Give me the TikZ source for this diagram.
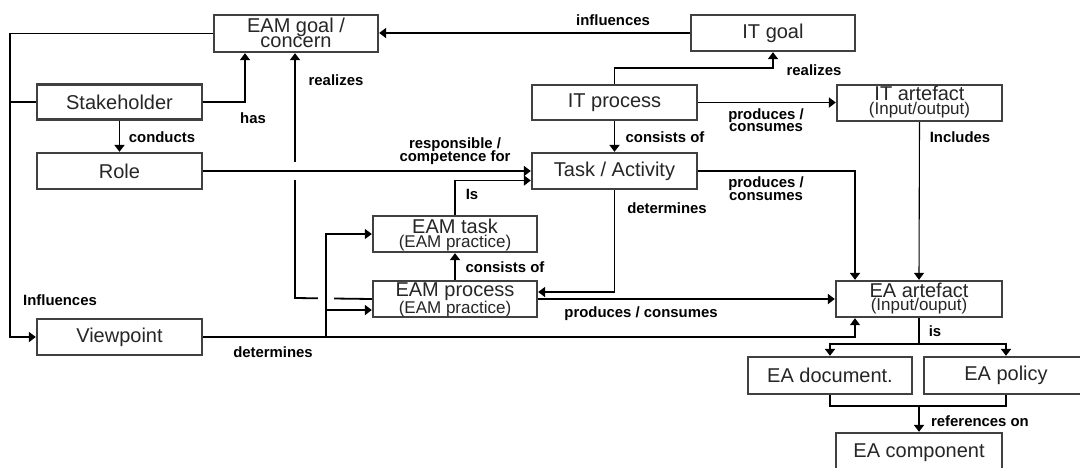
\documentclass[tikz,border=0pt]{standalone}
\usepackage{fontspec}
\setmainfont{Liberation Sans}
\usetikzlibrary{arrows.meta,calc}
\definecolor{boxgray}{HTML}{404040}
% two centred lines: #1 first, #2 second, #3 height of first, #4 baseline distance, #5 depth of second
\newcommand\twol[5]{\vbox{\offinterlineskip\halign{\hfil##\hfil\cr
  \raisebox{0pt}[#3][0pt]{#1}\cr
  \raisebox{0pt}[#4][#5]{#2}\cr}}}
\newcommand\subf{\fontsize{17}{17}\selectfont}
\begin{document}
\begin{tikzpicture}[x=1pt,y=-1pt,
  box/.style={draw=boxgray, line width=2.3pt, fill=white, inner sep=0pt,
              font=\fontsize{20}{24}\selectfont, text=black!85},
  lbl/.style={inner sep=0pt, font=\fontsize{14.9}{18}\selectfont\bfseries},
  conn/.style={line width=1.8pt, -{Triangle[length=7pt,width=10pt]}},
  ln/.style={line width=1.8pt},
  thinconn/.style={line width=1.1pt, -{Triangle[length=7pt,width=10pt]}},
  thinln/.style={line width=1.1pt}]
\useasboundingbox (0,0) rectangle (1080,467);
\fill[white] (0,0) rectangle (1080,467);
\clip (0,0) rectangle (1080,467);

% boxes
\node[box, minimum width=164, minimum height=37] (goal) at (296,33.5) {\twol{EAM goal /}{concern}{14.5pt}{15pt}{2.5pt}};
\node[box, minimum width=164, minimum height=36] (itgoal) at (773,33) {IT goal};
\node[box, minimum width=165, minimum height=35] (sh) at (119.5,102) {Stakeholder};
\node[box, minimum width=165, minimum height=36] (role) at (119.5,171) {Role};
\node[box, minimum width=165, minimum height=35] (itp) at (614.5,102.5) {IT process};
\node[box, minimum width=165, minimum height=36] (ita) at (919.5,103) {\twol{IT artefact}{\subf(Input/output)}{14.5pt}{13.5pt}{6pt}};
\node[box, minimum width=165, minimum height=36] (task) at (614.5,171) {Task / Activity};
\node[box, minimum width=164, minimum height=36] (eamt) at (455,234) {\twol{EAM task}{\subf(EAM practice)}{14.5pt}{14pt}{2.5pt}};
\node[box, minimum width=164, minimum height=36] (eamp) at (455,299) {\twol{EAM process}{\subf(EAM practice)}{14.5pt}{17pt}{3.5pt}};
\node[box, minimum width=166, minimum height=36] (eaa) at (919,299) {\twol{EA artefact}{\subf(Input/ouput)}{14.5pt}{13.5pt}{5pt}};
\node[box, minimum width=165, minimum height=36] (vp) at (119.5,337) {Viewpoint};
\node[box, minimum width=164, minimum height=37] (doc) at (830,375.5) {EA document.};
\node[box, minimum width=164, minimum height=37] (pol) at (1006,375.5) {EA policy};
\node[box, minimum width=166, minimum height=40] (comp) at (919,453) {EA component};

% helper coordinates
\coordinate (L) at (10,33);
\coordinate (R) at (295,298);
\coordinate (D) at (326,336);
\coordinate (D2) at ([yshift=-11pt]eamp.west);
\coordinate (S) at (919,344);
\coordinate (J) at (919,406);

% realizes (EAM process -> EAM goal)
\draw[conn] (eamp.west) -- (R) -- (R |- goal.south);
% crossing gaps
\fill[white] (288,162) rectangle (303,180);
\fill[white] (318,294) rectangle (334,302);

% connectors
\draw[conn] (itgoal.west) -- (itgoal.west -| goal.east);
\draw[conn] (goal.west) -- (goal.west -| L) |- (vp.west);
\draw[ln] (sh.west) -- (sh.west -| L);
\draw[conn] (sh.east) -| ([xshift=-51pt]goal.south);
\draw[conn] (sh.south) -- (role.north);
\draw[conn] (role.east) -- (task.west);
\draw[thinconn] (vp.east) -| ([xshift=-64pt]eaa.south);
\draw[thinconn] (D) |- (eamt.west);
\draw[conn] (D |- D2) -- (D2);
\draw[conn] (eamp.north) -- (eamt.south);
\draw[conn] (eamt.north) |- ([yshift=-9.5pt]task.west);
\draw[conn] (itp.south) -- (task.north);
\draw[conn] (itp.north) -- ++(0,-16) -| (itgoal.south);
\draw[conn] (itp.east) -- (itp.east -| ita.west);
\draw[thinconn] (ita.south) -- (eaa.north);
\draw[conn] (task.east) -| ([xshift=-64pt]eaa.north);
\draw[conn] (task.south) |- ([yshift=7pt]eamp.east);
\draw[conn] (eamp.east) -- (eaa.west);
\draw[ln] (eaa.south) -- (S);
\draw[conn] (S) -| (doc.north);
\draw[conn] (S) -| (pol.north);
\draw[ln] (doc.south) |- (J) -| (pol.south);
\draw[conn] (J) -- (comp.north);

% labels
\node[lbl] (l1) at (613,20) {influences};
\node[lbl] (l2) at (336,80) {realizes};
\node[lbl] (l3) at (253,118) {has};
\node[lbl] (l4) at (162,137) {conducts};
\node[lbl, anchor=base] (l5) at (455,161) {\twol{responsible /}{competence for}{11pt}{13pt}{0pt}};
\node[lbl] (l6) at (472,194) {Is};
\node[lbl] (l7) at (665,137) {consists of};
\node[lbl] (l8) at (814,70) {realizes};
\node[lbl, anchor=base] (l9) at (766,131.5) {\twol{produces /}{consumes}{11pt}{12.5pt}{0pt}};
\node[lbl] (l10) at (960,137) {Includes};
\node[lbl, anchor=base] (l11) at (766,200) {\twol{produces /}{consumes}{11pt}{12.5pt}{0pt}};
\node[lbl] (l12) at (667,208) {determines};
\node[lbl] (l13) at (505,267) {consists of};
\node[lbl] (l14) at (641,314) {produces / consumes};
\node[lbl] (l15) at (273,352) {determines};
\node[lbl] (l16) at (60,300) {Influences};
\node[lbl] (l17) at (935,331) {is};
\node[lbl] (l18) at (980,421) {references on};
\end{tikzpicture}
\end{document}
